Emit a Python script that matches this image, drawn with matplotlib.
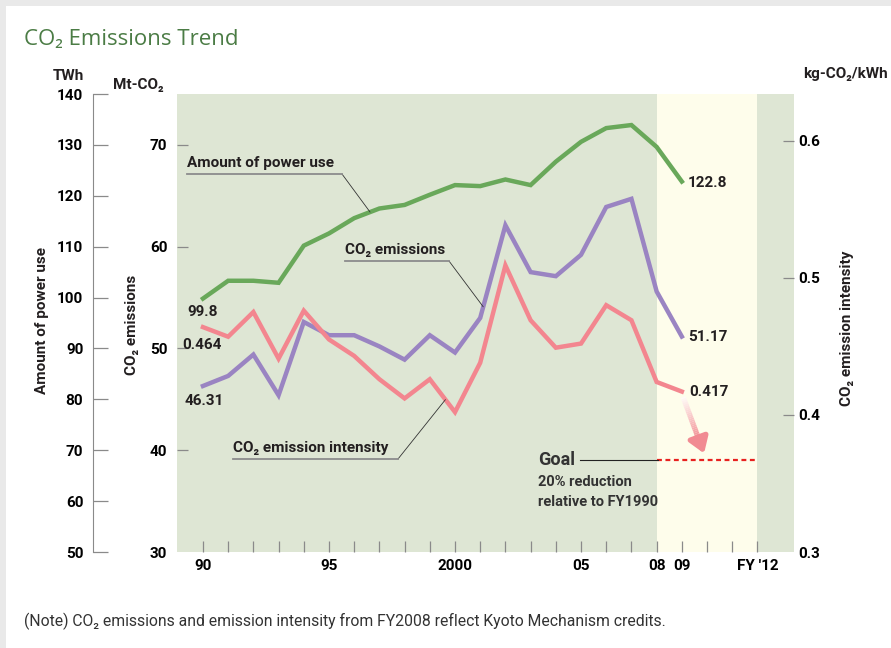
"""CO2 emissions trend: power use, CO2 emissions and emission intensity, FY1990-2009."""

import numpy as np
import matplotlib
matplotlib.use("Agg")
import matplotlib.pyplot as plt
from matplotlib.lines import Line2D
from matplotlib.patches import Rectangle, FancyArrowPatch

# --- data -------------------------------------------------------------------
YEARS = np.arange(1990, 2010)
POWER_TWH = [99.8, 103.3, 103.3, 102.9, 110.2, 112.6, 115.6, 117.5, 118.2, 120.2,
             122.1, 121.9, 123.2, 122.1, 126.7, 130.6, 133.3, 133.9, 129.6, 122.8]
CO2_MT = [46.31, 47.3, 49.4, 45.4, 52.6, 51.3, 51.3, 50.2, 48.9, 51.3,
          49.6, 53.0, 62.1, 57.5, 57.1, 59.2, 63.9, 64.7, 55.6, 51.17]
INTENSITY = [0.464, 0.457, 0.475, 0.441, 0.476, 0.455, 0.443, 0.426, 0.412, 0.426,
             0.402, 0.438, 0.509, 0.469, 0.449, 0.452, 0.480, 0.469, 0.424, 0.417]
GOAL_INTENSITY = 0.367
GOAL_SPAN = (2008, 2012)

XTICK_YEARS = list(range(1990, 2013))
XTICK_TEXT = {1990: "90", 1995: "95", 2000: "2000", 2005: "05",
              2008: "08", 2009: "09", 2012: "FY '12"}
TWH_TICKS = list(range(50, 141, 10))
MT_TICKS = [40, 50, 60, 70]
MT_BOTTOM = 30
KG_TICKS = [0.4, 0.5, 0.6]
KG_BOTTOM = 0.3

# --- style --------------------------------------------------------------------
GREEN_BG = "#dee6d4"
YELLOW_BG = "#fefdeb"
C_POWER = "#69a85a"
C_CO2 = "#9a84c2"
C_INT = "#f3868f"
C_TEXT = "#231f20"
C_TICK = "#8a8a8a"

plt.rcParams["font.family"] = ["Roboto", "DejaVu Sans"]
plt.rcParams["font.weight"] = "bold"
plt.rcParams["font.size"] = 11
plt.rcParams["text.color"] = C_TEXT

W, H = 891, 648
fig = plt.figure(figsize=(W / 100, H / 100), dpi=100)
fig.patch.set_facecolor("#e9e9e9")
fig.patches.append(Rectangle((6 / W, 0), 1, 1 - 6 / H, transform=fig.transFigure,
                             facecolor="white", edgecolor="none", zorder=-10))


def fx(px):
    return px / W


def fy(py):
    return 1 - py / H


# main axes carries CO2 emissions (Mt-CO2)
ax = fig.add_axes([fx(177), fy(552), (794 - 177) / W, (552 - 94) / H])
ax.set_facecolor(GREEN_BG)
ax.set_xlim(1988.97, 2013.45)
ax.set_ylim(30, 75)
ax.axvspan(*GOAL_SPAN, color=YELLOW_BG, lw=0, zorder=0)
for s in ax.spines.values():
    s.set_visible(False)
ax.set_xticks(XTICK_YEARS)
ax.set_xticklabels([XTICK_TEXT.get(y, "") for y in XTICK_YEARS])
ax.tick_params(axis="x", direction="in", length=8, width=0.9, color=C_TICK, pad=5)
ax.set_yticks(MT_TICKS)
ax.set_yticks([MT_BOTTOM], labels=[str(MT_BOTTOM)], minor=True)
ax.tick_params(axis="y", direction="in", length=8, width=0.9, color=C_TICK, pad=7)
ax.tick_params(axis="y", which="minor", length=0, pad=7, labelsize=11)

# right axis: emission intensity
axr = ax.twinx()
axr.set_ylim(0.3, 0.634)
for s in axr.spines.values():
    s.set_visible(False)
axr.set_yticks(KG_TICKS)
axr.set_yticklabels([f"{v:.1f}" for v in KG_TICKS])
axr.set_yticks([KG_BOTTOM], labels=[f"{KG_BOTTOM:.1f}"], minor=True)
axr.tick_params(axis="y", direction="in", length=8, width=0.9, color=C_TICK, pad=3)
axr.tick_params(axis="y", which="minor", length=0, pad=3, labelsize=11)

# outer left axis: power use
axt = ax.twinx()
axt.set_ylim(50, 140)
for k, s in axt.spines.items():
    s.set_visible(k == "left")
axt.spines["left"].set_position(("axes", (93 - 177) / (794 - 177)))
axt.spines["left"].set_color(C_TICK)
axt.yaxis.tick_left()
axt.set_yticks(TWH_TICKS)
axt.tick_params(axis="y", direction="in", length=11, width=0.9, color=C_TICK, pad=7)

# --- the three series ---------------------------------------------------------
axt.plot(YEARS, POWER_TWH, color=C_POWER, lw=3.2, solid_joinstyle="miter", zorder=3)
ax.plot(YEARS, CO2_MT, color=C_CO2, lw=3.2, solid_joinstyle="miter", zorder=3)
axr.plot(YEARS, INTENSITY, color=C_INT, lw=3.2, solid_joinstyle="miter", zorder=3)

# goal line
axr.plot(GOAL_SPAN, [GOAL_INTENSITY] * 2, color="#e8211f", lw=1.6, ls=(0, (2.2, 1.6)), zorder=3)

# gradient arrow from FY2009 intensity down toward the goal
start = np.array([YEARS[-1] + 0.05, INTENSITY[-1] - 0.004])
tip = np.array([2009.92, GOAL_INTENSITY + 0.003])
n_seg = 24
for i in range(n_seg):
    a, b = start + (tip - start) * (i / n_seg * 0.72), start + (tip - start) * ((i + 1) / n_seg * 0.72)
    f = i / (n_seg - 1)
    col = (1 - f) * np.array([1.0, 0.98, 0.97]) + f * np.array([0.95, 0.56, 0.58])
    axr.plot([a[0], b[0]], [a[1], b[1]], color=col, lw=3.8, solid_capstyle="butt", zorder=4)
mid = start + (tip - start) * 0.70
axr.add_patch(FancyArrowPatch(tuple(mid), tuple(tip), arrowstyle="-|>,head_length=9,head_width=6",
                              color="#f18a92", lw=3.8, mutation_scale=1, zorder=4))

# --- value labels -------------------------------------------------------------
lab = dict(textcoords="offset pixels", fontsize=11, color=C_TEXT, va="center")
axt.annotate("99.8", (YEARS[0], POWER_TWH[0]), xytext=(-16, -13), ha="left", **lab)
axr.annotate(f"{INTENSITY[0]:.3f}", (YEARS[0], INTENSITY[0]), xytext=(-21, -18), ha="left", **lab)
ax.annotate(f"{CO2_MT[0]:.2f}", (YEARS[0], CO2_MT[0]), xytext=(-18, -15), ha="left", **lab)
axt.annotate(f"{POWER_TWH[-1]:.1f}", (YEARS[-1], POWER_TWH[-1]), xytext=(6, -1), ha="left", **lab)
ax.annotate(f"{CO2_MT[-1]:.2f}", (YEARS[-1], CO2_MT[-1]), xytext=(6, 0), ha="left", **lab)
axr.annotate(f"{INTENSITY[-1]:.3f}", (YEARS[-1], INTENSITY[-1]), xytext=(7, 0), ha="left",
             textcoords="offset pixels", fontsize=11, color=C_TEXT, va="center", zorder=6)


# --- series call-outs with leader lines ---------------------------------------
def callout(axis, text, tx, ty, under_end, year, series):
    fig.text(fx(tx), fy(ty), text, fontsize=11, ha="left", va="center")
    uy = ty + 11
    fig.add_artist(Line2D([fx(tx), fx(under_end)], [fy(uy), fy(uy)], transform=fig.transFigure,
                          color="#8c8c8c", lw=1.3))
    yv = np.interp(year, YEARS, series)
    axis.annotate("", xy=(year, yv), xytext=(fx(under_end), fy(uy)), textcoords="figure fraction",
                  arrowprops=dict(arrowstyle="-", color="#333333", lw=0.6, shrinkA=0, shrinkB=0))


callout(axt, "Amount of power use", 187, 163, 342, 1996.63, POWER_TWH)
callout(ax, "CO\u2082 emissions", 345, 250, 449, 2001.12, CO2_MT)
callout(axr, "CO\u2082 emission intensity", 233, 448, 398, 1999.62, INTENSITY)

# goal annotation
goal_y = axr.transData.transform((2008, GOAL_INTENSITY))[1]
goal_fy = goal_y / fig.bbox.height
fig.text(fx(538), goal_fy, "Goal", fontsize=13, ha="left", va="center", color="#333333")
fig.add_artist(Line2D([fx(580), fx(658)], [goal_fy, goal_fy], transform=fig.transFigure,
                      color="#222222", lw=0.8))
fig.text(fx(538), fy(482), "20% reduction", fontsize=10.5, ha="left", va="center", color="#333333")
fig.text(fx(538), fy(502), "relative to FY1990", fontsize=10.5, ha="left", va="center", color="#333333")

# --- axis titles and units ----------------------------------------------------
fig.text(fx(42), fy(320), "Amount of power use", rotation=90, ha="center", va="center", fontsize=11)
fig.text(fx(132), fy(325), "CO\u2082 emissions", rotation=90, ha="center", va="center", fontsize=11)
fig.text(fx(847), fy(328), "CO\u2082 emission intensity", rotation=90, ha="center", va="center", fontsize=11)
fig.text(fx(84), fy(76), "TWh", ha="right", va="center", fontsize=11)
fig.text(fx(113), fy(85), "Mt-CO\u2082", ha="left", va="center", fontsize=11)
fig.text(fx(888), fy(74), "kg-CO\u2082/kWh", ha="right", va="center", fontsize=11)

# --- title and note -----------------------------------------------------------
fig.text(fx(24), fy(39), "CO\u2082 Emissions Trend", fontsize=16, fontweight="normal",
         family=["Open Sans", "DejaVu Sans"], color="#4b7c45", ha="left", va="center")
fig.text(fx(24), fy(621), "(Note) CO\u2082 emissions and emission intensity from FY2008 reflect "
         "Kyoto Mechanism credits.", fontsize=11.3, fontweight="normal", color="#333333",
         ha="left", va="center")

fig.savefig("out.png", dpi=100, facecolor=fig.get_facecolor())
